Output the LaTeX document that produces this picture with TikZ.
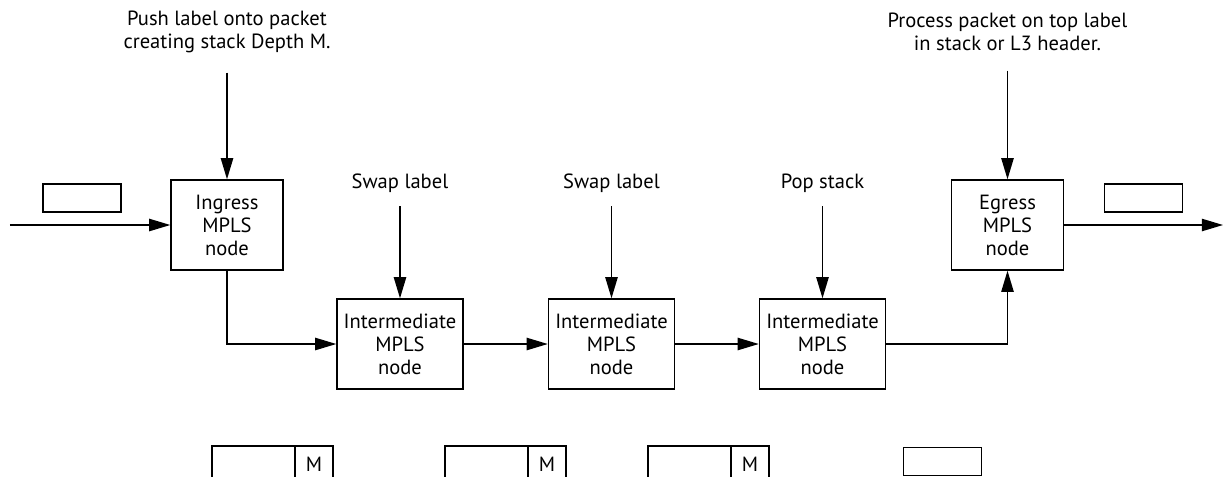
\documentclass[tikz,border=0pt]{standalone}
\usepackage{fontspec}
\setmainfont{PT Sans}
\usetikzlibrary{positioning,arrows.meta}

\begin{document}
\begin{tikzpicture}[line width=0.8pt,font=\fontsize{11.7}{13.1}\selectfont,
  mplsbox/.style={draw,align=center,minimum width=2.24cm,minimum height=1.8cm,inner sep=1pt},
  midbox/.style={mplsbox,minimum width=2.52cm},
  pkt/.style={draw,minimum width=1.56cm,minimum height=0.56cm,inner sep=0pt},
  flow/.style={-{Triangle[length=12pt,width=7pt]}},
  note/.style={align=center,inner sep=0pt}]
  \useasboundingbox (0,0) rectangle (24.5,-9.52);
  \node[mplsbox] (ingress) at (4.54,-4.5) {Ingress\\MPLS\\node};
  \node[midbox] (int1) at (8,-6.88) {Intermediate\\MPLS\\node};
  \node[midbox] (int2) at (12.23,-6.88) {Intermediate\\MPLS\\node};
  \node[midbox] (int3) at (16.45,-6.88) {Intermediate\\MPLS\\node};
  \node[mplsbox] (egress) at (20.15,-4.5) {Egress\\MPLS\\node};
  \node[pkt] (pktin) at (1.64,-3.96) {};\node[pkt] (pktout) at (22.87,-3.96) {};
  \coordinate (src) at (0.2,-4.5);\coordinate (dst) at (24.46,-4.5);
  \node[note] (push) at (4.54,-0.64) {Push label onto packet\\creating stack Depth M.};
  \node[note] (proc) at (20.15,-0.64) {Process packet on top label\\in stack or L3 header.};
  \node[note] (swap1) at (8,-3.66) {Swap label};
  \node[note] (swap2) at (12.23,-3.66) {Swap label};
  \node[note] (pop) at (16.45,-3.66) {Pop stack};
  \draw[flow] (src) -- (ingress);
  \draw[flow] (ingress) |- (int1);
  \draw[flow] (int1) -- (int2);\draw[flow] (int2) -- (int3);
  \draw[flow] (int3) -| (egress);
  \draw[flow] (egress) -- (dst);
  \draw[flow,shorten <=0.38cm] (push) -- (ingress);\draw[flow,shorten <=0.38cm] (proc) -- (egress);
  \draw[flow,shorten <=0.26cm] (swap1) -- (int1);\draw[flow,shorten <=0.26cm] (swap2) -- (int2);
  \draw[flow,shorten <=0.26cm] (pop) -- (int3);
  \draw (4.24,-8.92) rectangle (6.66,-9.9) (5.9,-8.92) -- (5.9,-9.9);
  \draw (8.9,-8.92) rectangle (11.32,-9.9) (10.56,-8.92) -- (10.56,-9.9);
  \draw (12.96,-8.92) rectangle (15.38,-9.9) (14.62,-8.92) -- (14.62,-9.9);
  \node (m1) at (6.28,-9.28) {M};\node (m2) at (10.94,-9.28) {M};\node (m3) at (15,-9.28) {M};
  \node[pkt] (pktend) at (18.85,-9.23) {};
\end{tikzpicture}
\end{document}
